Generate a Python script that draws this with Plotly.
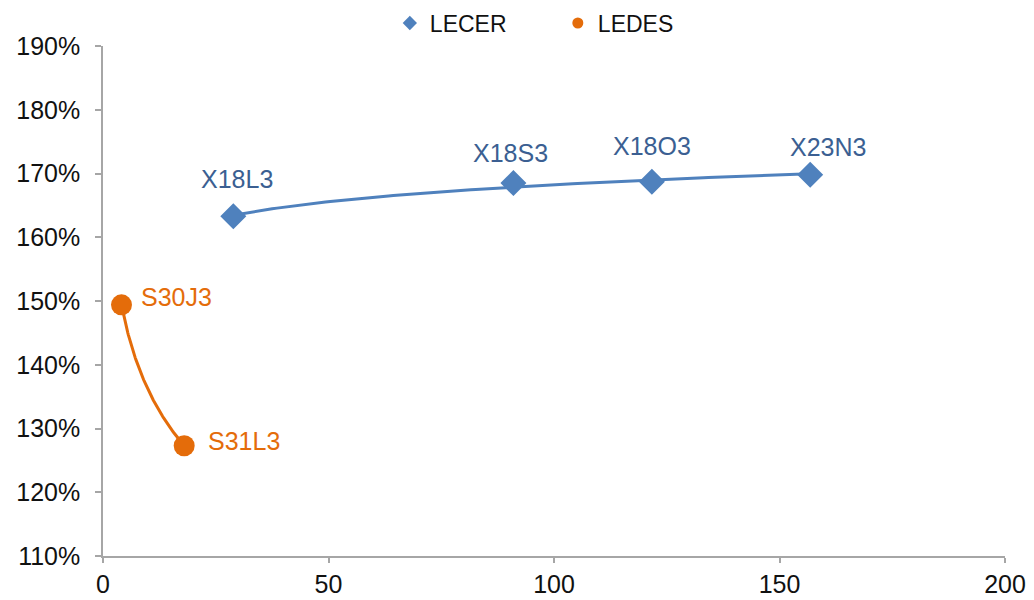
import numpy as np
import plotly.graph_objects as go

# ---- data ----
lecer_x = [28.9, 91.0, 121.7, 156.8]
lecer_y = [1.633, 1.685, 1.687, 1.698]
lecer_labels = ["X18L3", "X18S3", "X18O3", "X23N3"]

ledes_x = [4.1, 18.0]
ledes_y = [1.494, 1.273]
ledes_labels = ["S30J3", "S31L3"]

BLUE = "#4F81BD"
BLUE_TXT = "#3B5F92"
ORANGE = "#E46C0A"
FONT = "Arial, Liberation Sans, sans-serif"


def log_trend(xs, ys, n=120):
    a, b = np.polyfit(np.log(xs), ys, 1)
    xx = np.linspace(min(xs), max(xs), n)
    return xx, a * np.log(xx) + b


fig = go.Figure()

# trendlines (logarithmic)
tx, ty = log_trend(lecer_x, lecer_y)
fig.add_trace(go.Scatter(x=tx, y=ty, mode="lines", line=dict(color=BLUE, width=3),
                         showlegend=False, hoverinfo="skip"))
tx, ty = log_trend(ledes_x, ledes_y)
fig.add_trace(go.Scatter(x=tx, y=ty, mode="lines", line=dict(color=ORANGE, width=3),
                         showlegend=False, hoverinfo="skip"))

# markers
fig.add_trace(go.Scatter(x=lecer_x, y=lecer_y, mode="markers", name="LECER",
                         marker=dict(symbol="diamond", size=20, color=BLUE),
                         showlegend=False))
fig.add_trace(go.Scatter(x=ledes_x, y=ledes_y, mode="markers", name="LEDES",
                         marker=dict(symbol="circle", size=21, color=ORANGE),
                         showlegend=False))

# legend entries (small markers)
fig.add_trace(go.Scatter(x=[None], y=[None], mode="markers", name="LECER",
                         marker=dict(symbol="diamond", size=11, color=BLUE)))
fig.add_trace(go.Scatter(x=[None], y=[None], mode="markers", name="LEDES",
                         marker=dict(symbol="circle", size=11, color=ORANGE)))

# data labels
lecer_shift = [(4, 37), (-3, 30), (0, 36), (18, 28)]
for x, y, t, (sx, sy) in zip(lecer_x, lecer_y, lecer_labels, lecer_shift):
    fig.add_annotation(x=x, y=y, text=t, showarrow=False, xshift=sx, yshift=sy,
                       font=dict(family=FONT, size=25, color=BLUE_TXT))
ledes_shift = [(55, 8), (60, 5)]
for x, y, t, (sx, sy) in zip(ledes_x, ledes_y, ledes_labels, ledes_shift):
    fig.add_annotation(x=x, y=y, text=t, showarrow=False, xshift=sx, yshift=sy,
                       font=dict(family=FONT, size=25, color=ORANGE))

axis_common = dict(showgrid=False, zeroline=False, showline=True, linecolor="#A6A6A6",
                   linewidth=1.5, ticks="outside", tickcolor="#A6A6A6",
                   tickwidth=1.5, automargin=False,
                   tickfont=dict(family=FONT, size=25, color="#111111"))

fig.update_layout(
    width=1034, height=600,
    margin=dict(l=103, r=29, t=46, b=44, autoexpand=False),
    paper_bgcolor="white", plot_bgcolor="white",
    font=dict(family=FONT, size=23, color="#111111"),
    legend=dict(orientation="h", x=0.318, xanchor="left", y=1.045, yanchor="middle",
                font=dict(family=FONT, size=23, color="#111111"),
                itemwidth=30, entrywidth=123, entrywidthmode="pixels",
                tracegroupgap=0, bgcolor="rgba(0,0,0,0)"),
    xaxis=dict(range=[0, 200], dtick=50, tick0=0, ticklen=5, ticklabelstandoff=0,
               **axis_common),
    yaxis=dict(range=[1.1, 1.9], dtick=0.1, tick0=1.1, tickformat=".0%", ticklen=6,
               ticklabelstandoff=10, **axis_common),
)

fig.write_html("out.html", config={"displayModeBar": False},
               post_script="document.body.style.margin='0';document.body.style.overflow='hidden';")
